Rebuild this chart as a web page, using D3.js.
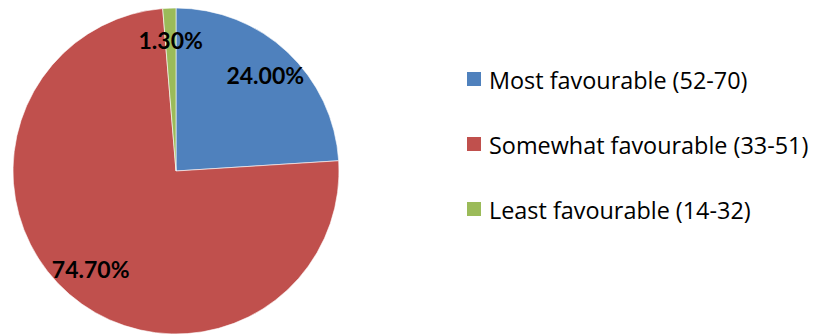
<!DOCTYPE html>
<html>
<head>
<meta charset="utf-8">
<script src="https://cdn.jsdelivr.net/npm/d3@7"></script>
<style>
  body { margin: 0; background: #fff; }
  text { font-family: Lato, "Open Sans", sans-serif; }
  .legend text { font-family: "Open Sans", Lato, sans-serif; }
</style>
</head>
<body>
<svg id="chart" width="814" height="335"></svg>
<script>
// chart data
const categories = ["Most favourable (52-70)", "Somewhat favourable (33-51)", "Least favourable (14-32)"];
const shares = [24.0, 74.7, 1.3];
const colors = ["#4F81BD", "#C0504D", "#9BBB59"];

const width = 814, height = 335;
const cx = 176, cy = 171, radius = 163;

const svg = d3.select("#chart");
const data = categories.map((c, i) => ({ name: c, value: shares[i], color: colors[i] }));

// pie starts at 12 o'clock, goes clockwise, no sorting
const pie = d3.pie().sort(null).value(d => d.value);
const arc = d3.arc().innerRadius(0).outerRadius(radius);
const labelArc = d3.arc().innerRadius(radius * 0.8).outerRadius(radius * 0.8);

const g = svg.append("g").attr("transform", `translate(${cx},${cy})`);
const arcs = pie(data);

g.selectAll("path")
  .data(arcs)
  .enter().append("path")
  .attr("d", arc)
  .attr("fill", d => d.data.color)
  .attr("stroke", "#fff")
  .attr("stroke-width", 0.6);

g.selectAll("text.lbl")
  .data(arcs)
  .enter().append("text")
  .attr("class", "lbl")
  .attr("transform", d => `translate(${labelArc.centroid(d)})`)
  .attr("text-anchor", "middle")
  .attr("dy", "0.36em")
  .style("font-size", "23px")
  .style("font-weight", "bold")
  .attr("fill", "#000")
  .text(d => d.data.value.toFixed(2) + "%");

// legend
const legend = svg.append("g").attr("class", "legend").attr("transform", "translate(467,79)");
const rowH = 65;
const items = legend.selectAll("g")
  .data(data)
  .enter().append("g")
  .attr("transform", (d, i) => `translate(0,${i * rowH})`);

items.append("rect")
  .attr("x", 0).attr("y", -7)
  .attr("width", 14).attr("height", 14)
  .attr("fill", d => d.color);

items.append("text")
  .attr("x", 22)
  .attr("y", 9.5)
  .style("font-size", "23.4px")
  .attr("fill", "#000")
  .text(d => d.name);
</script>
</body>
</html>
